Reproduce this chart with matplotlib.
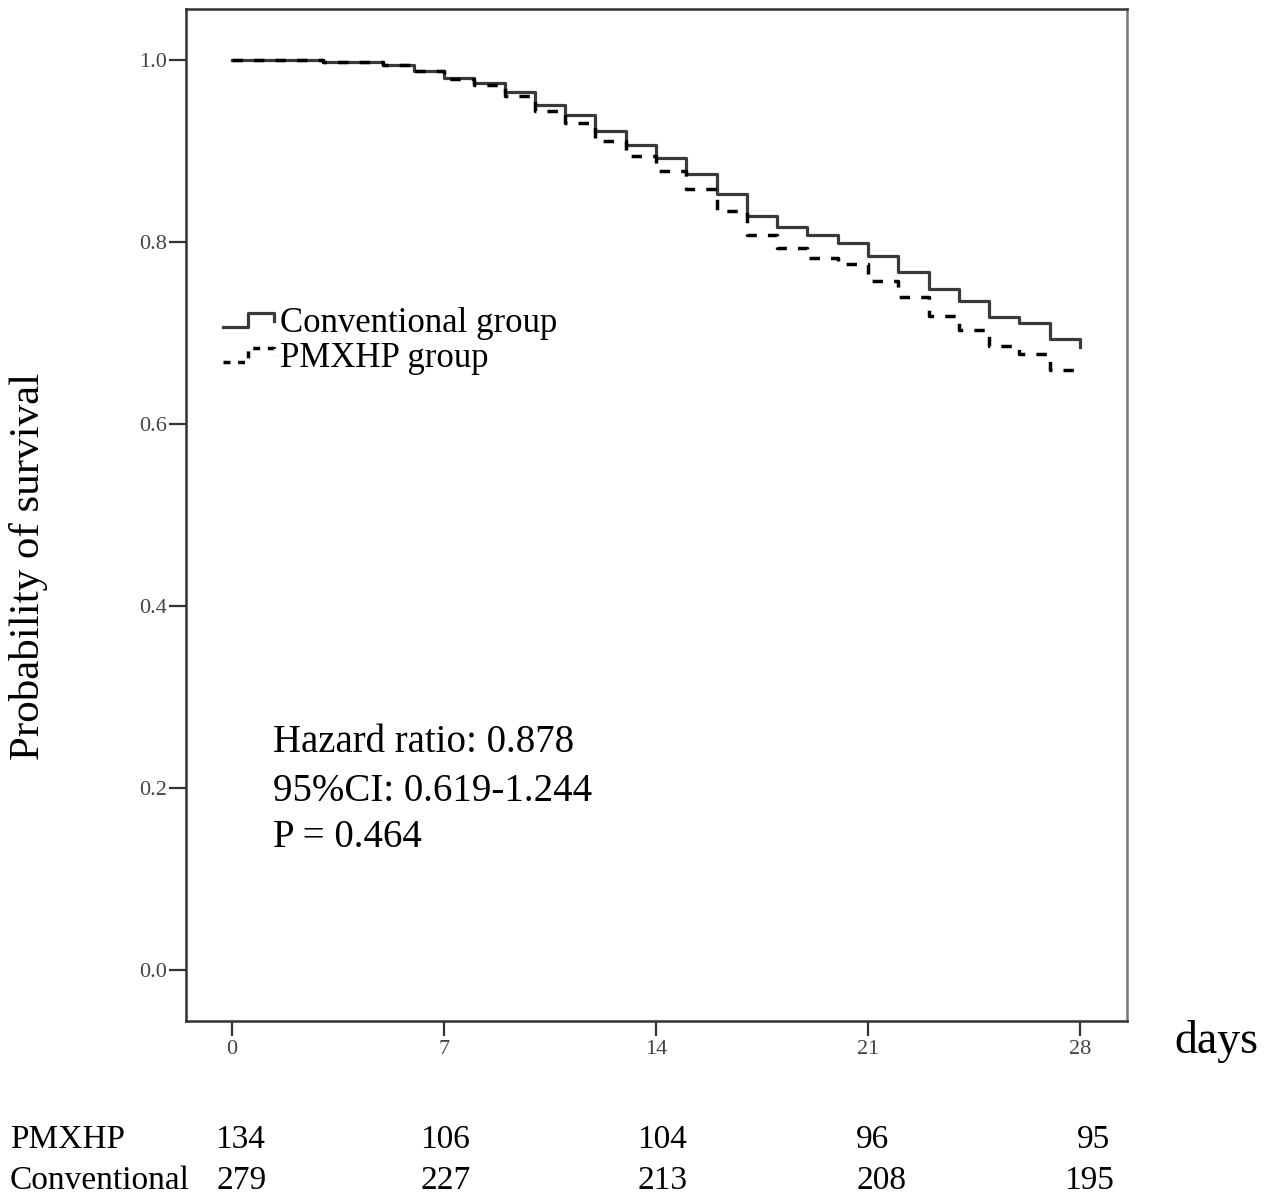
"""Kaplan-Meier style survival curves: Conventional vs PMXHP group, 28 days."""
import numpy as np
import matplotlib
matplotlib.use("Agg")
import matplotlib.pyplot as plt
from matplotlib.legend_handler import HandlerBase
from matplotlib.lines import Line2D

plt.rcParams.update({"font.family": ["Liberation Serif", "DejaVu Serif"]})

# survival probability in [day, day+1)
days = list(range(29))
conv_surv = [1.000, 1.000, 1.000, 0.9975, 0.9975, 0.9945, 0.988, 0.980, 0.974, 0.965,
             0.9505, 0.9396, 0.922, 0.9066, 0.892, 0.874, 0.853, 0.828, 0.816, 0.807,
             0.799, 0.784, 0.767, 0.748, 0.735, 0.717, 0.711, 0.693, 0.684]
pmx_surv = [1.000, 1.000, 1.000, 0.9975, 0.9975, 0.9945, 0.988, 0.979, 0.972, 0.960,
            0.944, 0.931, 0.911, 0.8945, 0.878, 0.858, 0.834, 0.807, 0.793, 0.782,
            0.776, 0.757, 0.739, 0.718, 0.703, 0.685, 0.677, 0.659, 0.659]

xticks = [0, 7, 14, 21, 28]
yticks = [0.0, 0.2, 0.4, 0.6, 0.8, 1.0]

# numbers at risk
risk_pmx = [134, 106, 104, 96, 95]
risk_conv = [279, 227, 213, 208, 195]
risk_x_pmx = [0.27, 7.05, 14.2, 21.15, 28.45]
risk_x_conv = [0.3, 7.05, 14.2, 21.45, 28.3]

stats_lines = ["Hazard ratio: 0.878", "95%CI: 0.619-1.244", "P = 0.464"]

W, H = 1275, 1196


class StepHandler(HandlerBase):
    def create_artists(self, legend, orig_handle, xdescent, ydescent, width, height,
                       fontsize, trans):
        xs = np.array([0.0, 0.48, 0.48, 0.98, 0.98]) * width - xdescent
        ys = np.array([0.2, 0.2, 0.78, 0.78, 0.45]) * height - ydescent
        ln = Line2D(xs, ys, color=orig_handle.get_color(), lw=orig_handle.get_linewidth(),
                    linestyle=orig_handle.get_linestyle())
        if orig_handle.get_linestyle() not in ("-", "solid"):
            ln.set_dashes((2.0, 2.2))
        ln.set_transform(trans)
        return [ln]


fig = plt.figure(figsize=(W / 100, H / 100), dpi=100)
ax = fig.add_axes([186 / W, 1 - 1021 / H, (1127 - 186) / W, (1021 - 9) / H])

l1, = ax.step(days, conv_surv, where="post", color="#3a3a3a", lw=2.3,
              label="Conventional group")
l2, = ax.step(days, pmx_surv, where="post", color="black", lw=2.5, linestyle="--",
              dashes=(3.0, 3.2), label="PMXHP group")

ax.set_xlim(-1.52, 29.55)
ax.set_ylim(-0.056, 1.0557)
ax.set_xticks(xticks)
ax.set_xticklabels([str(t) for t in xticks])
ax.set_yticks(yticks)
ax.set_yticklabels([f"{t:.1f}" for t in yticks])
ax.tick_params(axis="y", direction="out", length=12, width=1.6, pad=2,
               labelsize=16, labelcolor="#444", color="#333")
ax.tick_params(axis="x", direction="out", length=11, width=1.6, pad=3,
               labelsize=16, labelcolor="#444", color="#333")
for s in ax.spines.values():
    s.set_linewidth(1.8)
    s.set_color("#333")
ax.spines["right"].set_color("#777")

leg = ax.legend(handles=[l1, l2], loc="upper left", bbox_to_anchor=(0.039, 0.706),
                frameon=False, fontsize=25, handlelength=1.5, handletextpad=0.15,
                borderpad=0, borderaxespad=0, labelspacing=0.08,
                handler_map={Line2D: StepHandler()})

for line, base in zip(stats_lines, [752, 801, 847]):
    fig.text(273 / W, 1 - base / H, line, fontsize=28, va="baseline", ha="left")

fig.text(29 / W, 1 - 566 / H, "Probability of survival", rotation=90, fontsize=31,
         ha="center", va="center")
fig.text(1174 / W, 1 - 1053 / H, "days", fontsize=33, ha="left", va="baseline")

# numbers at risk table
row_base = [1148, 1189]
fig.text(10 / W, 1 - row_base[0] / H, "PMXHP", fontsize=24, va="baseline", ha="left")
fig.text(10 / W, 1 - row_base[1] / H, "Conventional", fontsize=24, va="baseline", ha="left")
for xv, n in zip(risk_x_pmx, risk_pmx):
    ax.annotate(str(n), xy=(xv, 0), xycoords=("data", "figure fraction"),
                xytext=(xv, 1 - row_base[0] / H), textcoords=("data", "figure fraction"),
                fontsize=24, ha="center", va="baseline", annotation_clip=False)
for xv, n in zip(risk_x_conv, risk_conv):
    ax.annotate(str(n), xy=(xv, 0), xycoords=("data", "figure fraction"),
                xytext=(xv, 1 - row_base[1] / H), textcoords=("data", "figure fraction"),
                fontsize=24, ha="center", va="baseline", annotation_clip=False)

fig.savefig("out.png", dpi=100, facecolor="white")
print("wrote out.png")
